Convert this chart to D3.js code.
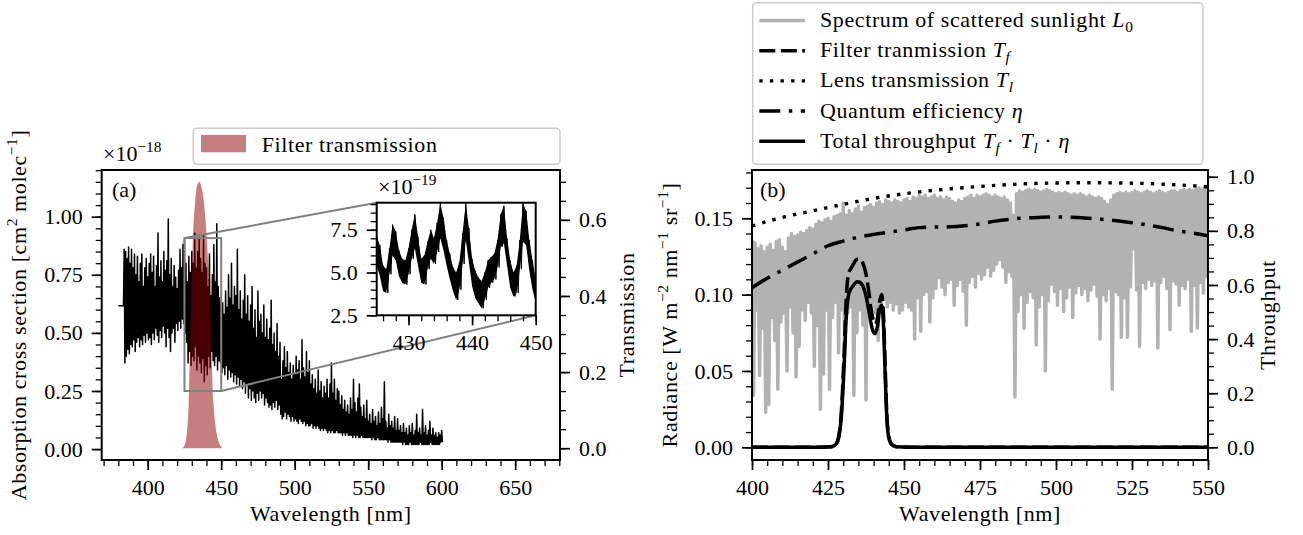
<!DOCTYPE html>
<html>
<head>
<meta charset="utf-8">
<script src="https://cdnjs.cloudflare.com/ajax/libs/d3/7.8.5/d3.min.js"></script>
<style>
  body { margin: 0; background: #fff; }
  svg { display: block; font-family: "Liberation Serif", "DejaVu Serif", serif; }
</style>
</head>
<body>
<svg id="fig" width="1303" height="535"></svg>
<script>
// ---------- panel (a): absorption cross section, x1e-18, 1 nm bins from 380 nm ----------
const xsWavelength = d3.range(380, 601);
const xsHigh = [
  0.617, 0.617, 0.617, 0.617, 0.86, 0.85, 0.82, 0.87, 0.80, 0.86,
  0.78, 0.84, 0.75, 0.83, 0.72, 0.80, 0.84, 0.70, 0.78, 0.82,
  0.74, 0.80, 0.84, 0.76, 0.83, 0.70, 0.79, 0.93, 0.74, 0.81,
  0.72, 0.85, 0.77, 0.81, 0.99, 0.75, 0.82, 0.70, 0.79, 0.74,
  0.69, 0.77, 0.86, 0.78, 0.88, 0.90, 0.80, 0.72, 0.83, 0.76,
  0.85, 0.80, 0.93, 0.78, 0.85, 0.91, 0.82, 0.76, 0.92, 0.80,
  0.78, 0.70, 0.84, 0.66, 0.75, 0.88, 0.72, 0.97, 0.70, 0.65,
  0.62, 0.63, 0.58, 0.68, 0.61, 0.75, 0.65, 0.80, 0.62, 0.70,
  0.66, 0.86, 0.60, 0.68, 0.56, 0.64, 0.75, 0.58, 0.66, 0.55,
  0.62, 0.70, 0.52, 0.60, 0.48, 0.68, 0.55, 0.58, 0.50, 0.62,
  0.48, 0.56, 0.47, 0.52, 0.64, 0.45, 0.50, 0.42, 0.54, 0.40,
  0.46, 0.30, 0.38, 0.44, 0.35, 0.42, 0.33, 0.37, 0.30, 0.36,
  0.32, 0.40, 0.34, 0.38, 0.30, 0.47, 0.35, 0.31, 0.42, 0.33,
  0.38, 0.28, 0.32, 0.26, 0.30, 0.24, 0.34, 0.25, 0.29, 0.22,
  0.27, 0.24, 0.30, 0.22, 0.28, 0.37, 0.24, 0.30, 0.21, 0.26,
  0.25, 0.19, 0.23, 0.17, 0.21, 0.16, 0.19, 0.15, 0.22, 0.17,
  0.30, 0.20, 0.16, 0.22, 0.28, 0.18, 0.14, 0.19, 0.13, 0.21,
  0.12, 0.15, 0.11, 0.17, 0.12, 0.14, 0.10, 0.16, 0.11, 0.18,
  0.13, 0.29, 0.12, 0.09, 0.15, 0.10, 0.12, 0.09, 0.14, 0.08,
  0.13, 0.08, 0.10, 0.07, 0.11, 0.07, 0.09, 0.06, 0.10, 0.07,
  0.11, 0.06, 0.08, 0.15, 0.07, 0.09, 0.06, 0.17, 0.07, 0.10,
  0.06, 0.08, 0.12, 0.06, 0.09, 0.06, 0.07, 0.05, 0.07, 0.06,
  0.08
];
const xsLow = [
  0.617, 0.617, 0.617, 0.617, 0.37, 0.40, 0.43, 0.41, 0.45, 0.44,
  0.47, 0.42, 0.46, 0.48, 0.44, 0.47, 0.45, 0.49, 0.46, 0.50,
  0.47, 0.48, 0.45, 0.50, 0.47, 0.52, 0.49, 0.46, 0.51, 0.48,
  0.53, 0.50, 0.44, 0.52, 0.48, 0.42, 0.50, 0.52, 0.46, 0.54,
  0.51, 0.55, 0.52, 0.56, 0.54, 0.50, 0.46, 0.37, 0.42, 0.36,
  0.40, 0.38, 0.44, 0.34, 0.40, 0.37, 0.33, 0.39, 0.29, 0.36,
  0.32, 0.40, 0.35, 0.42, 0.38, 0.36, 0.40, 0.34, 0.38, 0.37,
  0.33, 0.35, 0.32, 0.36, 0.30, 0.34, 0.31, 0.33, 0.29, 0.32,
  0.28, 0.31, 0.27, 0.30, 0.26, 0.29, 0.24, 0.28, 0.22, 0.26,
  0.21, 0.25, 0.22, 0.20, 0.24, 0.21, 0.25, 0.22, 0.24, 0.19,
  0.22, 0.20, 0.18, 0.19, 0.17, 0.20, 0.18, 0.21, 0.17, 0.19,
  0.15, 0.13, 0.14, 0.16, 0.13, 0.15, 0.14, 0.12, 0.14, 0.12,
  0.13, 0.12, 0.11, 0.13, 0.12, 0.11, 0.12, 0.10, 0.11, 0.10,
  0.10, 0.11, 0.09, 0.10, 0.09, 0.10, 0.09, 0.08, 0.09, 0.08,
  0.09, 0.08, 0.07, 0.08, 0.07, 0.08, 0.07, 0.07, 0.08, 0.07,
  0.07, 0.07, 0.06, 0.07, 0.06, 0.07, 0.06, 0.06, 0.06, 0.05,
  0.06, 0.05, 0.06, 0.05, 0.05, 0.06, 0.05, 0.05, 0.05, 0.05,
  0.05, 0.05, 0.04, 0.05, 0.04, 0.04, 0.05, 0.04, 0.04, 0.04,
  0.04, 0.04, 0.04, 0.03, 0.04, 0.03, 0.03, 0.03, 0.03, 0.03,
  0.03, 0.03, 0.03, 0.02, 0.03, 0.02, 0.02, 0.02, 0.03, 0.02,
  0.02, 0.02, 0.02, 0.02, 0.02, 0.03, 0.02, 0.02, 0.02, 0.02,
  0.02, 0.02, 0.03, 0.02, 0.02, 0.02, 0.02, 0.02, 0.02, 0.03,
  0.03
];

// inset, x1e-19, 0.5 nm bins 425..450
const insetWavelength = d3.range(425, 450.25, 0.5);
const insetHigh = [
  7.1, 6.6, 5.4, 5.2, 6.4, 7.8, 7.4, 6.3, 5.8, 5.7,
  6.4, 7.5, 8.4, 7.1, 5.8, 6.0, 6.8, 7.5, 7.0, 7.9,
  9.05, 8.2, 6.9, 6.1, 5.3, 5.0, 5.6, 7.3, 9.05, 7.6,
  5.8, 5.1, 4.7, 4.5, 5.0, 5.7, 5.9, 6.1, 6.9, 8.4,
  8.9, 7.0, 5.7, 5.0, 5.4, 6.9, 9.05, 8.6, 6.9, 5.7,
  4.6
];
const insetLow = [
  5.4, 4.8, 3.9, 3.8, 4.9, 6.0, 5.7, 4.8, 4.4, 4.3,
  4.9, 5.8, 6.4, 5.4, 4.4, 4.3, 5.2, 5.8, 5.5, 6.2,
  7.0, 6.3, 5.4, 4.6, 3.9, 3.4, 4.0, 5.5, 6.9, 5.6,
  4.2, 3.5, 3.2, 2.9, 3.4, 4.1, 4.4, 4.6, 5.3, 6.5,
  6.7, 5.4, 4.1, 3.6, 3.8, 5.2, 6.8, 6.6, 5.1, 4.0,
  3.3
];

// filter transmission shown in panel (a)
const filterWlA = [423.8, 426.0, 427.9, 429.5, 430.8, 432.2, 433.5, 435.1, 436.5, 438.3, 440.1, 442.4, 444.7, 448.1, 450.8];
const filterTA  = [0.0, 0.02, 0.12, 0.38, 0.556, 0.644, 0.688, 0.70, 0.688, 0.644, 0.556, 0.38, 0.12, 0.02, 0.0];

// ---------- panel (b) ----------
const solarWavelength = d3.range(400, 551);
const solarHigh = [
  0.136, 0.134, 0.130, 0.132, 0.128, 0.131, 0.133, 0.129, 0.135, 0.136,
  0.131, 0.128, 0.137, 0.140, 0.138, 0.139, 0.141, 0.140, 0.142, 0.144,
  0.143, 0.146, 0.148, 0.147, 0.149, 0.150, 0.148, 0.151, 0.152, 0.153,
  0.160, 0.152, 0.155, 0.153, 0.156, 0.158, 0.154, 0.157, 0.158, 0.159,
  0.157, 0.160, 0.161, 0.159, 0.162, 0.161, 0.160, 0.162, 0.161, 0.160,
  0.162, 0.163, 0.161, 0.164, 0.163, 0.165, 0.164, 0.165, 0.163, 0.164,
  0.165, 0.163, 0.164, 0.162, 0.164, 0.163, 0.161, 0.160, 0.162, 0.161,
  0.163, 0.164, 0.165, 0.163, 0.165, 0.164, 0.165, 0.166, 0.165, 0.164,
  0.165, 0.164, 0.163, 0.164, 0.162, 0.160, 0.152, 0.166, 0.168, 0.167,
  0.168, 0.169, 0.168, 0.169, 0.168, 0.167, 0.168, 0.169, 0.168, 0.167,
  0.166, 0.167, 0.166, 0.167, 0.166, 0.165, 0.166, 0.165, 0.166, 0.165,
  0.164, 0.165, 0.164, 0.163, 0.164, 0.163, 0.161, 0.159, 0.162, 0.165,
  0.166, 0.167, 0.166, 0.167, 0.166, 0.167, 0.168, 0.167, 0.166, 0.167,
  0.168, 0.167, 0.166, 0.167, 0.168, 0.167, 0.166, 0.167, 0.168, 0.168,
  0.167, 0.168, 0.169, 0.168, 0.169, 0.168, 0.169, 0.170, 0.169, 0.170,
  0.170
];
const solarLow = [
  0.034, 0.090, 0.047, 0.078, 0.023, 0.028, 0.085, 0.070, 0.038, 0.082,
  0.088, 0.050, 0.092, 0.075, 0.046, 0.066, 0.090, 0.083, 0.095, 0.088,
  0.053, 0.080, 0.025, 0.048, 0.090, 0.038, 0.085, 0.095, 0.062, 0.090,
  0.060, 0.088, 0.092, 0.034, 0.075, 0.090, 0.080, 0.031, 0.085, 0.095,
  0.088, 0.070, 0.093, 0.098, 0.092, 0.095, 0.090, 0.094, 0.088, 0.090,
  0.095, 0.092, 0.090, 0.071, 0.098, 0.076, 0.100, 0.102, 0.082, 0.098,
  0.104, 0.111, 0.105, 0.100, 0.108, 0.110, 0.093, 0.106, 0.110, 0.102,
  0.080, 0.108, 0.112, 0.105, 0.114, 0.110, 0.113, 0.118, 0.112, 0.116,
  0.120, 0.123, 0.118, 0.108, 0.115, 0.112, 0.033, 0.089, 0.100, 0.078,
  0.095, 0.102, 0.098, 0.067, 0.092, 0.100, 0.050, 0.096, 0.107, 0.102,
  0.093, 0.104, 0.089, 0.098, 0.105, 0.085, 0.101, 0.106, 0.100, 0.104,
  0.096, 0.103, 0.107, 0.099, 0.071, 0.100, 0.096, 0.104, 0.038, 0.102,
  0.100, 0.072, 0.098, 0.072, 0.105, 0.130, 0.103, 0.066, 0.108, 0.104,
  0.110, 0.106, 0.109, 0.065, 0.108, 0.112, 0.104, 0.077, 0.109, 0.107,
  0.093, 0.106, 0.104, 0.110, 0.076, 0.106, 0.078, 0.108, 0.101, 0.112,
  0.119
];

const bandWl    = [400, 420, 426, 427.5, 428.5, 429.5, 430.3, 431, 431.7, 432.5, 433.5, 434.5, 435.5, 436.5, 437.5, 438.5, 439.5, 440.5, 441.3, 442, 442.7, 443.3, 443.8, 444.3, 445, 446, 447.5, 455, 550];
const filterTB  = [0, 0, 0.002, 0.01, 0.04, 0.15, 0.35, 0.55, 0.64, 0.66, 0.68, 0.695, 0.695, 0.68, 0.64, 0.57, 0.49, 0.455, 0.48, 0.54, 0.565, 0.48, 0.30, 0.13, 0.04, 0.01, 0.002, 0, 0];
const totalT    = [0, 0, 0.002, 0.01, 0.035, 0.13, 0.30, 0.48, 0.56, 0.585, 0.60, 0.612, 0.61, 0.595, 0.56, 0.50, 0.44, 0.42, 0.45, 0.51, 0.525, 0.44, 0.27, 0.12, 0.035, 0.01, 0.002, 0, 0];

const lensWl = [400, 410, 420, 430, 440, 450, 460, 470, 480, 490, 500, 510, 520, 530, 540, 550];
const lensT  = [0.818, 0.850, 0.874, 0.898, 0.920, 0.937, 0.950, 0.960, 0.968, 0.974, 0.977, 0.978, 0.977, 0.975, 0.970, 0.963];

const qeWl = d3.range(400, 551, 5);
const qe   = [0.59, 0.625, 0.655, 0.685, 0.715, 0.745, 0.762, 0.777, 0.787, 0.795, 0.803, 0.812, 0.814, 0.815, 0.819, 0.826,
              0.836, 0.843, 0.848, 0.850, 0.851, 0.850, 0.847, 0.843, 0.837, 0.830, 0.822, 0.812, 0.800, 0.792, 0.782];

// tick values
const ticksAx = [400, 450, 500, 550, 600, 650];
const ticksAy = [0, 0.25, 0.5, 0.75, 1.0];
const ticksAy2 = [0, 0.2, 0.4, 0.6];
const ticksIx = [430, 440, 450];
const ticksIy = [2.5, 5.0, 7.5];
const ticksBx = [400, 425, 450, 475, 500, 525, 550];
const ticksBy = [0, 0.05, 0.10, 0.15];
const ticksBy2 = [0, 0.2, 0.4, 0.6, 0.8, 1.0];

// ---------- drawing ----------
const FS = 22;
const svg = d3.select('#fig');
svg.append('rect').attr('width', 1303).attr('height', 535).attr('fill', '#fff');

function rich(sel, parts, fs) {
  let shift = 0;
  parts.forEach(p => {
    const size = (p.sup || p.sub) ? fs * 0.7 : fs;
    const target = p.sup ? -0.42 * fs : (p.sub ? 0.22 * fs : 0);
    const ts = sel.append('tspan').attr('font-size', size).attr('dy', target - shift).text(p.t);
    if (p.it) ts.attr('font-style', 'italic');
    shift = target;
  });
}

function styleAxis(g) {
  g.attr('font-size', null).attr('font-family', null);
  g.select('.domain').remove();
  g.selectAll('text').attr('font-size', FS).attr('fill', '#000');
}

function drawAxis(g, axisFn, scale, majors, minors, fmt) {
  g.append('g').call(axisFn(scale).tickValues(minors).tickSize(6).tickFormat(''))
    .call(styleAxis).selectAll('line').attr('stroke', '#000').attr('stroke-width', 1.3);
  g.append('g').call(axisFn(scale).tickValues(majors).tickSize(10).tickPadding(9).tickFormat(fmt))
    .call(styleAxis).selectAll('line').attr('stroke', '#000').attr('stroke-width', 1.7);
}

function zigzag(wl, hi, lo, half) {
  const pts = [];
  wl.forEach((w, i) => { pts.push([w, hi[i]]); pts.push([w + half, lo[i]]); });
  return pts;
}

function clip(id, x0, y0, x1, y1) {
  svg.append('clipPath').attr('id', id).append('rect')
    .attr('x', x0).attr('y', y0).attr('width', x1 - x0).attr('height', y1 - y0);
}

// ===== panel (a) =====
const A = { x0: 101.7, x1: 560, y0: 170, y1: 460 };
const xA = d3.scaleLinear([368.7, 680.5], [A.x0, A.x1]);
const yA = d3.scaleLinear([-0.047, 1.201], [A.y1, A.y0]);
const yA2 = d3.scaleLinear([-0.031, 0.731], [A.y1, A.y0]);
clip('clipA', A.x0, A.y0, A.x1, A.y1);

const gA = svg.append('g');
const plotA = gA.append('g').attr('clip-path', 'url(#clipA)');

plotA.append('path')
  .attr('d', d3.line().x(d => xA(d[0])).y(d => yA(d[1]))(zigzag(xsWavelength, xsHigh, xsLow, 0.5)))
  .attr('fill', 'none').attr('stroke', '#000').attr('stroke-width', 1.5).attr('stroke-linejoin', 'round');

// inset indicator rectangle and connectors
const I = { x0: 376.7, x1: 535.7, y0: 202.7, y1: 315.3 };
const yIdom = [2.5, 9.08];
const rx0 = xA(425), rx1 = xA(450), ry0 = yA(yIdom[1] / 10), ry1 = yA(yIdom[0] / 10);
gA.append('rect').attr('x', rx0).attr('y', ry0).attr('width', rx1 - rx0).attr('height', ry1 - ry0)
  .attr('fill', 'none').attr('stroke', '#808080').attr('stroke-width', 2);
gA.append('line').attr('x1', rx0).attr('y1', ry0).attr('x2', I.x0).attr('y2', I.y0)
  .attr('stroke', '#808080').attr('stroke-width', 2);
gA.append('line').attr('x1', rx1).attr('y1', ry1).attr('x2', I.x1).attr('y2', I.y1)
  .attr('stroke', '#808080').attr('stroke-width', 2);

// filter transmission (twin axis)
plotA.append('path')
  .attr('d', d3.area().x((d, i) => xA(filterWlA[i])).y0(yA2(0)).y1(d => yA2(d)).curve(d3.curveMonotoneX)(filterTA))
  .attr('fill', '#8b0000').attr('fill-opacity', 0.5);

drawAxis(gA.append('g').attr('transform', `translate(0,${A.y1})`), d3.axisBottom, xA, ticksAx, d3.range(370, 681, 10), d3.format('d'));
drawAxis(gA.append('g').attr('transform', `translate(${A.x0},0)`), d3.axisLeft, yA, ticksAy, d3.range(0, 1.201, 0.05), d3.format('.2f'));
drawAxis(gA.append('g').attr('transform', `translate(${A.x1},0)`), d3.axisRight, yA2, ticksAy2, d3.range(0, 0.731, 0.05), d3.format('.1f'));

gA.append('rect').attr('x', A.x0).attr('y', A.y0).attr('width', A.x1 - A.x0).attr('height', A.y1 - A.y0)
  .attr('fill', 'none').attr('stroke', '#000').attr('stroke-width', 2);

gA.append('text').attr('x', 112).attr('y', 197).attr('font-size', FS).text('(a)');
rich(gA.append('text').attr('x', 103).attr('y', 161), [{ t: '×10' }, { t: '−18', sup: 1 }], FS);

gA.append('text').attr('x', (A.x0 + A.x1) / 2).attr('y', 521).attr('text-anchor', 'middle')
  .attr('font-size', FS).attr('letter-spacing', 0.6).text('Wavelength [nm]');
rich(gA.append('text').attr('transform', `translate(26,${(A.y0 + A.y1) / 2}) rotate(-90)`)
  .attr('text-anchor', 'middle').attr('letter-spacing', 0.6),
  [{ t: 'Absorption cross section [cm' }, { t: '2', sup: 1 }, { t: ' molec' }, { t: '−1', sup: 1 }, { t: ']' }], FS);
gA.append('text').attr('transform', `translate(634,${(A.y0 + A.y1) / 2}) rotate(-90)`)
  .attr('text-anchor', 'middle').attr('font-size', FS).attr('letter-spacing', 0.6).text('Transmission');

// inset
const xI = d3.scaleLinear([425, 450], [I.x0, I.x1]);
const yI = d3.scaleLinear(yIdom, [I.y1, I.y0]);
clip('clipI', I.x0, I.y0, I.x1, I.y1);
const gI = gA.append('g');
gI.append('rect').attr('x', I.x0).attr('y', I.y0).attr('width', I.x1 - I.x0).attr('height', I.y1 - I.y0).attr('fill', '#fff');
const plotI = gI.append('g').attr('clip-path', 'url(#clipI)');
plotI.append('path')
  .attr('d', d3.area().x((d, i) => xI(insetWavelength[i])).y0((d, i) => yI(insetLow[i])).y1(d => yI(d))(insetHigh))
  .attr('fill', '#000');
plotI.append('path')
  .attr('d', d3.line().x(d => xI(d[0])).y(d => yI(d[1]))(zigzag(insetWavelength, insetHigh, insetLow, 0.25)))
  .attr('fill', 'none').attr('stroke', '#000').attr('stroke-width', 1);
drawAxis(gI.append('g').attr('transform', `translate(0,${I.y1})`), d3.axisBottom, xI, ticksIx, d3.range(426, 450.1, 2), d3.format('d'));
drawAxis(gI.append('g').attr('transform', `translate(${I.x0},0)`), d3.axisLeft, yI, ticksIy, d3.range(2.5, 9.01, 0.5), d3.format('.1f'));
gI.append('rect').attr('x', I.x0).attr('y', I.y0).attr('width', I.x1 - I.x0).attr('height', I.y1 - I.y0)
  .attr('fill', 'none').attr('stroke', '#000').attr('stroke-width', 2);
rich(gI.append('text').attr('x', 378).attr('y', 194), [{ t: '×10' }, { t: '−19', sup: 1 }], FS);

// legend (a)
const legA = gA.append('g');
legA.append('rect').attr('x', 193.3).attr('y', 128.3).attr('width', 560 - 193.3).attr('height', 36)
  .attr('rx', 4).attr('fill', '#fff').attr('fill-opacity', 0.8).attr('stroke', '#cccccc').attr('stroke-width', 1.5);
legA.append('rect').attr('x', 201).attr('y', 135).attr('width', 45).attr('height', 17.3)
  .attr('fill', '#8b0000').attr('fill-opacity', 0.5);
legA.append('text').attr('x', 261.7).attr('y', 151.7).attr('font-size', FS).attr('letter-spacing', 0.6).text('Filter transmission');

// ===== panel (b) =====
const B = { x0: 752, x1: 1208, y0: 170, y1: 460 };
const xB = d3.scaleLinear([400, 550], [B.x0, B.x1]);
const yB = d3.scaleLinear([-0.0083, 0.1816], [B.y1, B.y0]);
const yB2 = d3.scaleLinear([-0.047, 1.025], [B.y1, B.y0]);
clip('clipB', B.x0, B.y0, B.x1, B.y1);
const gB = svg.append('g');
const plotB = gB.append('g').attr('clip-path', 'url(#clipB)');

const styles = {
  solar: { stroke: '#b2b2b2', width: 3.5, dash: null },
  filter: { stroke: '#000', width: 3.5, dash: '16,5.5' },
  lens: { stroke: '#000', width: 3.4, dash: '3.4,7.2' },
  qe: { stroke: '#000', width: 3.5, dash: '21,8.5,3.5,8.5' },
  total: { stroke: '#000', width: 3.5, dash: null }
};
function strokeStyle(sel, s) {
  sel.attr('fill', 'none').attr('stroke', s.stroke).attr('stroke-width', s.width)
    .attr('stroke-dasharray', s.dash).attr('stroke-linejoin', 'round');
  return sel;
}

plotB.append('path')
  .attr('d', d3.line().x(d => xB(d[0])).y(d => yB(d[1]))(zigzag(solarWavelength, solarHigh, solarLow, 0.5)))
  .call(strokeStyle, styles.solar);

const lineB2 = (wl) => d3.line().x((d, i) => xB(wl[i])).y(d => yB2(d)).curve(d3.curveMonotoneX);
plotB.append('path').attr('d', lineB2(bandWl)(filterTB)).call(strokeStyle, styles.filter);
plotB.append('path').attr('d', lineB2(lensWl)(lensT)).call(strokeStyle, styles.lens);
plotB.append('path').attr('d', lineB2(qeWl)(qe)).call(strokeStyle, styles.qe);
plotB.append('path').attr('d', lineB2(bandWl)(totalT)).call(strokeStyle, styles.total);

drawAxis(gB.append('g').attr('transform', `translate(0,${B.y1})`), d3.axisBottom, xB, ticksBx, d3.range(400, 551, 5), d3.format('d'));
drawAxis(gB.append('g').attr('transform', `translate(${B.x0},0)`), d3.axisLeft, yB, ticksBy, d3.range(0, 0.1801, 0.01), d3.format('.2f'));
drawAxis(gB.append('g').attr('transform', `translate(${B.x1},0)`), d3.axisRight, yB2, ticksBy2, d3.range(0, 1.01, 0.05), d3.format('.1f'));

gB.append('rect').attr('x', B.x0).attr('y', B.y0).attr('width', B.x1 - B.x0).attr('height', B.y1 - B.y0)
  .attr('fill', 'none').attr('stroke', '#000').attr('stroke-width', 2);
gB.append('text').attr('x', 760).attr('y', 197).attr('font-size', FS).text('(b)');

gB.append('text').attr('x', (B.x0 + B.x1) / 2).attr('y', 521).attr('text-anchor', 'middle')
  .attr('font-size', FS).attr('letter-spacing', 0.6).text('Wavelength [nm]');
rich(gB.append('text').attr('transform', `translate(677,${(B.y0 + B.y1) / 2}) rotate(-90)`)
  .attr('text-anchor', 'middle').attr('letter-spacing', 0.6),
  [{ t: 'Radiance [W m' }, { t: '−2', sup: 1 }, { t: ' nm' }, { t: '−1', sup: 1 }, { t: ' sr' }, { t: '−1', sup: 1 }, { t: ']' }], FS);
gB.append('text').attr('transform', `translate(1275,${(B.y0 + B.y1) / 2}) rotate(-90)`)
  .attr('text-anchor', 'middle').attr('font-size', FS).attr('letter-spacing', 0.6).text('Throughput');

// legend (b)
const legendItems = [
  { style: styles.solar, label: [{ t: 'Spectrum of scattered sunlight ' }, { t: 'L', it: 1 }, { t: '0', sub: 1 }] },
  { style: styles.filter, label: [{ t: 'Filter tranmission ' }, { t: 'T', it: 1 }, { t: 'f', sub: 1, it: 1 }] },
  { style: styles.lens, label: [{ t: 'Lens transmission ' }, { t: 'T', it: 1 }, { t: 'l', sub: 1, it: 1 }] },
  { style: styles.qe, label: [{ t: 'Quantum efficiency ' }, { t: 'η', it: 1 }] },
  { style: styles.total, label: [{ t: 'Total throughput ' }, { t: 'T', it: 1 }, { t: 'f', sub: 1, it: 1 }, { t: ' · ' },
    { t: 'T', it: 1 }, { t: 'l', sub: 1, it: 1 }, { t: ' · ' }, { t: 'η', it: 1 }] }
];
const legB = gB.append('g');
legB.append('rect').attr('x', 752.7).attr('y', 2.7).attr('width', 1203 - 752.7).attr('height', 161.6)
  .attr('rx', 4).attr('fill', '#fff').attr('fill-opacity', 0.8).attr('stroke', '#cccccc').attr('stroke-width', 1.5);
legendItems.forEach((it, i) => {
  const cy = 20.5 + i * 30.2;
  legB.append('line').attr('x1', 759.3).attr('x2', 805).attr('y1', cy).attr('y2', cy).call(strokeStyle, it.style)
    .attr('stroke-linecap', 'butt');
  rich(legB.append('text').attr('x', 820).attr('y', cy + 6.5).attr('letter-spacing', 0.6), it.label, FS);
});
</script>
</body>
</html>
